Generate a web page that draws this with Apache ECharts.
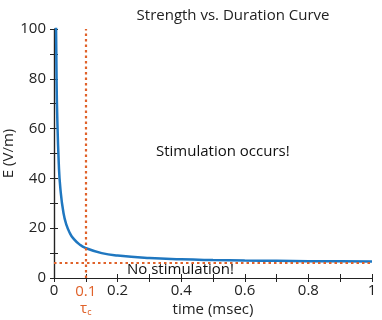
<!DOCTYPE html>
<html>
<head>
<meta charset="utf-8">
<script src="https://cdn.jsdelivr.net/npm/echarts@6/dist/echarts.min.js"></script>
<style>
  html, body { margin: 0; padding: 0; background: #fff; }
  #chart { width: 382px; height: 320px; }
</style>
</head>
<body>
<div id="chart"></div>
<script>
// duration (msec) and threshold field (V/m)
var durations = [0.006, 0.008, 0.01, 0.015, 0.02, 0.03, 0.04, 0.05, 0.06, 0.08, 0.1, 0.15, 0.2, 0.3, 0.4, 0.5, 0.6, 0.7, 0.8, 0.9, 1.0];
var fields = [106, 81, 66, 46, 36, 26, 21, 18, 16, 13.5, 12, 10, 9, 8, 7.5, 7.2, 7, 6.9, 6.75, 6.7, 6.6];
var rheobase = 6;
var chronaxie = 0.1;
var xLabels = {0: '0', 0.2: '0.2', 0.4: '0.4', 0.6: '0.6', 0.8: '0.8', 1: '1'};

var font = '"Open Sans", "Noto Sans", sans-serif';
var blue = '#1f77c0';
var orange = '#e0622a';
var ink = '#222';

var chart = echarts.init(document.getElementById('chart'));

var points = durations.map(function (t, i) { return [t, fields[i]]; });

var option = {
    animation: false,
    textStyle: { fontFamily: font },
    title: {
        text: 'Strength vs. Duration Curve',
        left: 228,
        top: 3,
        textAlign: 'center',
        textStyle: { fontFamily: font, fontSize: 15, fontWeight: 'normal', color: ink }
    },
    grid: { left: 54, right: 10, top: 29, bottom: 42, outerBoundsMode: 'none' },
    xAxis: [{
        type: 'value',
        min: 0, max: 1, interval: 0.1,
        name: 'time (msec)',
        nameLocation: 'middle',
        nameGap: 24,
        nameMoveOverlap: false,
        nameTextStyle: { fontFamily: font, fontSize: 15, color: ink, verticalAlign: 'top' },
        axisLine: { lineStyle: { color: ink, width: 1.2 } },
        axisTick: { inside: true, length: 4, lineStyle: { color: ink } },
        splitLine: { show: false },
        axisLabel: {
            margin: 5,
            fontSize: 15,
            color: ink,
            formatter: function (v) {
                var k = Math.round(v * 10) / 10;
                if (Math.abs(k - chronaxie) < 1e-6) {
                    return '{o|0.1}\n{t|τ}{s|c}';
                }
                return xLabels[k] !== undefined ? xLabels[k] : '';
            },
            rich: {
                o: { color: orange, fontSize: 15, fontFamily: font, lineHeight: 17 },
                t: { color: orange, fontSize: 15, fontFamily: font, lineHeight: 17 },
                s: { color: orange, fontSize: 9, fontFamily: font, lineHeight: 17, padding: [8, 0, 0, 0] }
            }
        }
    }, {
        type: 'value',
        position: 'top',
        min: 0, max: 1, interval: 0.1,
        axisLine: { lineStyle: { color: ink, width: 1.2 } },
        axisTick: { inside: true, length: 4, lineStyle: { color: ink } },
        axisLabel: { show: false },
        splitLine: { show: false }
    }],
    yAxis: [{
        type: 'value',
        min: 0, max: 100, interval: 10,
        name: 'E (V/m)',
        nameLocation: 'middle',
        nameGap: 38,
        nameMoveOverlap: false,
        nameTextStyle: { fontFamily: font, fontSize: 15, color: ink },
        axisLine: { show: true, lineStyle: { color: ink, width: 1.2 } },
        axisTick: { show: true, inside: true, length: 4, lineStyle: { color: ink } },
        splitLine: { show: false },
        axisLabel: {
            fontSize: 15,
            color: ink,
            margin: 8,
            formatter: function (v) { return v % 20 === 0 ? String(v) : ''; }
        }
    }, {
        type: 'value',
        position: 'right',
        min: 0, max: 100, interval: 10,
        axisLine: { show: true, lineStyle: { color: ink, width: 1.2 } },
        axisTick: { show: true, inside: true, length: 4, lineStyle: { color: ink } },
        axisLabel: { show: false },
        splitLine: { show: false }
    }],
    graphic: [{
        type: 'text',
        left: 156, top: 144,
        style: { text: 'Stimulation occurs!', font: '15px ' + font, fill: '#111' }
    }, {
        type: 'text',
        left: 127, top: 262,
        style: { text: 'No stimulation!', font: '15px ' + font, fill: '#111' }
    }],
    series: [{
        type: 'line',
        data: points,
        smooth: true,
        showSymbol: false,
        clip: true,
        lineStyle: { color: blue, width: 2.5 },
        markLine: {
            silent: true,
            symbol: 'none',
            label: { show: false },
            lineStyle: { color: orange, type: [2.5, 3], width: 2.2 },
            data: [{ xAxis: chronaxie }, { yAxis: rheobase }]
        },
        z: 3
    }]
};

chart.setOption(option);
</script>
</body>
</html>
